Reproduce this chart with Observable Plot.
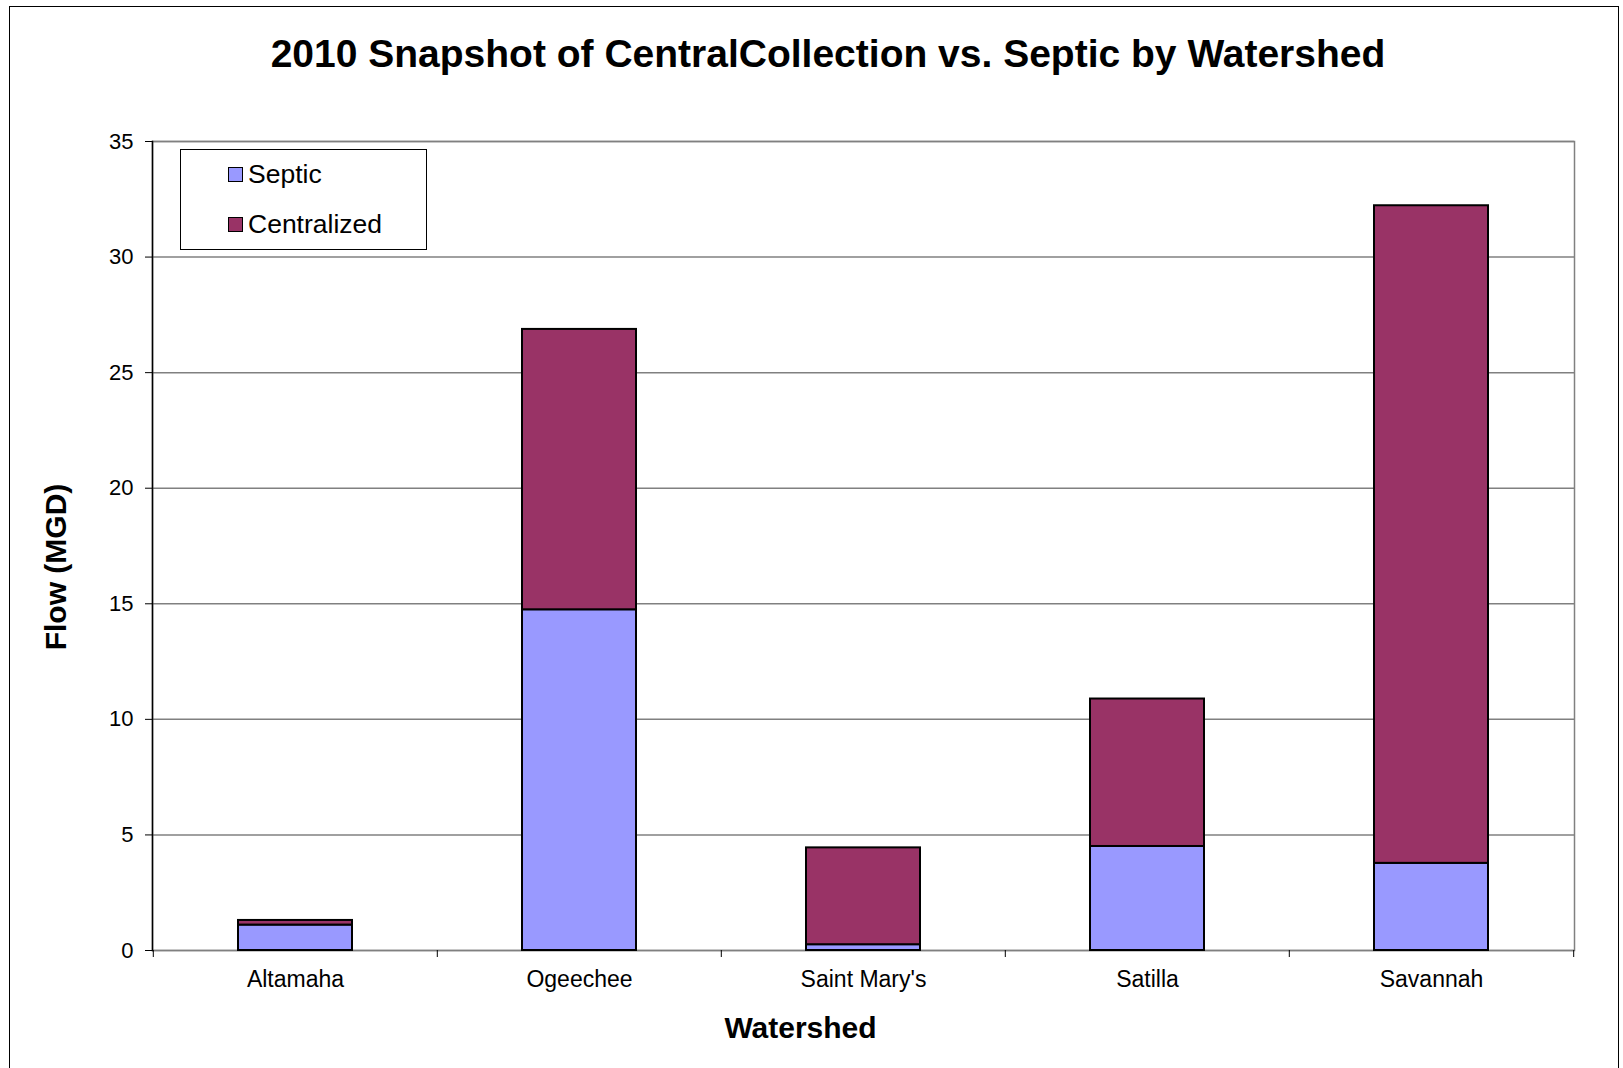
<!DOCTYPE html>
<html>
<head>
<meta charset="utf-8">
<script src="https://cdn.jsdelivr.net/npm/d3@7"></script>
<script src="https://cdn.jsdelivr.net/npm/@observablehq/plot@0.6"></script>
<style>
  html, body { margin: 0; padding: 0; background: #fff; }
  #wrap { position: relative; width: 1623px; height: 1068px; overflow: hidden; background: #fff;
          font-family: "Liberation Sans", Arial, sans-serif; color: #000; }
  #chart { position: absolute; left: 0; top: 0; }
  #frame { position: absolute; left: 9px; top: 6px; width: 1608px; height: 1100px;
           border: 1.5px solid #000; pointer-events: none; }
  #title { position: absolute; left: 0; top: 34px; width: 1656px; text-align: center;
           font-weight: bold; font-size: 39px; line-height: 39px; white-space: nowrap; }
  #legend { position: absolute; left: 180px; top: 149px; width: 245px; height: 99px;
            border: 1.5px solid #000; background: #fff; }
  .item { position: absolute; left: 47px; font-size: 26.5px; line-height: 26px; white-space: nowrap; }
  .sw { display: inline-block; width: 13px; height: 13px; border: 1.5px solid #000; margin-right: 5px;
        vertical-align: 1px; }
</style>
</head>
<body>
<div id="wrap">
  <div id="chart"></div>
  <div id="title">2010 Snapshot of CentralCollection vs. Septic by Watershed</div>
  <div id="legend"></div>
  <div id="frame"></div>
</div>
<script>
const categories = ["Altamaha", "Ogeechee", "Saint Mary's", "Satilla", "Savannah"];
const septic = [1.1, 14.74, 0.25, 4.5, 3.77];
const centralized = [0.2, 12.13, 4.19, 6.38, 28.45];
const seriesNames = ["Septic", "Centralized"];
const seriesColors = ["#9999FF", "#993366"];
const yTicks = [0, 5, 10, 15, 20, 25, 30, 35];

const data = [];
categories.forEach((c, i) => data.push({watershed: c, series: "Septic", value: septic[i]}));
categories.forEach((c, i) => data.push({watershed: c, series: "Centralized", value: centralized[i]}));

const W = 1623, H = 1068;
const mL = 152, mR = 49, mT = 141, mB = 118;
const step = (W - mL - mR) / categories.length;

const plot = Plot.plot({
  width: W, height: H,
  marginLeft: mL, marginRight: mR, marginTop: mT, marginBottom: mB,
  style: {fontFamily: "'Liberation Sans', Arial, sans-serif", color: "#000", background: "transparent"},
  x: {domain: categories, paddingInner: 0.6, paddingOuter: 0.3, label: null},
  y: {domain: [0, 35], label: null},
  color: {domain: seriesNames, range: seriesColors},
  marks: [
    Plot.gridY(yTicks, {stroke: "#808080", strokeOpacity: 1, strokeWidth: 1.5}),
    Plot.frame({stroke: "#808080", strokeWidth: 1.5}),
    Plot.barY(data, {x: "watershed", y: "value", fill: "series", stroke: "#000", strokeWidth: 2, order: seriesNames}),
    Plot.frame({anchor: "left", stroke: "#000", strokeWidth: 1.5}),
    Plot.axisY(yTicks, {tickSize: 7, tickPadding: 12, fontSize: 22, stroke: "#000", label: null}),
    Plot.axisX({tickSize: 0, tickPadding: 20, fontSize: 23, label: null}),
    Plot.axisX(categories, {tickSize: 7, tickFormat: () => "", dx: -step / 2, stroke: "#000", label: null}),
    Plot.axisX([categories[categories.length - 1]], {tickSize: 7, tickFormat: () => "", dx: step / 2, stroke: "#000", label: null}),
    Plot.text(["Flow (MGD)"], {frameAnchor: "left", text: d => d, rotate: -90, textAnchor: "middle",
      dx: -96, dy: 21, fontSize: 30, fontWeight: "bold", fill: "#000"}),
    Plot.text(["Watershed"], {frameAnchor: "bottom", text: d => d, dx: -63, dy: 87,
      fontSize: 30, fontWeight: "bold", fill: "#000"})
  ]
});
document.getElementById("chart").appendChild(plot);

const legend = document.getElementById("legend");
seriesNames.forEach((s, i) => {
  const el = document.createElement("div");
  el.className = "item";
  el.style.top = (11 + i * 50) + "px";
  const sw = document.createElement("span");
  sw.className = "sw";
  sw.style.background = seriesColors[i];
  el.appendChild(sw);
  el.appendChild(document.createTextNode(s));
  legend.appendChild(el);
});
</script>
</body>
</html>
